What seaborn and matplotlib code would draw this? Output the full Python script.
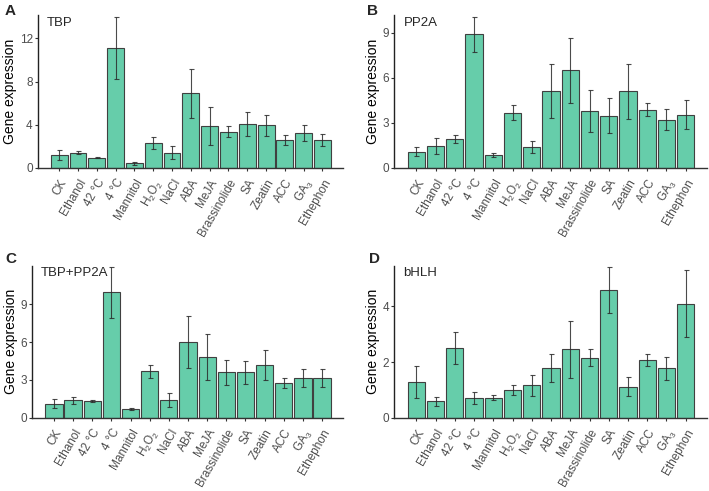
import numpy as np
import matplotlib
matplotlib.use('Agg')
import matplotlib.pyplot as plt
import seaborn as sns

# ----- # Datos # ----- #
tratamientos = ['CK', 'Ethanol', '42 °C', '4 °C', 'Mannitol', 'H$_2$O$_2$',
                'NaCl', 'ABA', 'MeJA', 'Brassinolide', 'SA', 'Zeatin',
                'ACC', 'GA$_3$', 'Ethephon']

tbp_media = [1.2, 1.42, 0.95, 11.1, 0.43, 2.34, 1.42, 6.92, 3.88, 3.35,
             4.06, 3.94, 2.55, 3.23, 2.62]
tbp_sd = [0.45, 0.15, 0.05, 2.9, 0.15, 0.55, 0.63, 2.27, 1.74, 0.52,
          1.15, 0.97, 0.46, 0.77, 0.55]

pp2a_media = [1.08, 1.48, 1.94, 8.9, 0.88, 3.66, 1.39, 5.12, 6.49, 3.77,
              3.49, 5.1, 3.89, 3.2, 3.53]
pp2a_sd = [0.31, 0.54, 0.27, 1.17, 0.13, 0.5, 0.39, 1.82, 2.18, 1.4,
           1.17, 1.85, 0.42, 0.7, 0.97]

tbp_pp2a_media = [1.12, 1.38, 1.35, 9.93, 0.7, 3.7, 1.4, 6.02, 4.8, 3.6,
                  3.6, 4.2, 2.74, 3.15, 3.15]
tbp_pp2a_sd = [0.35, 0.3, 0.1, 2.0, 0.1, 0.52, 0.53, 2.04, 1.82, 1.0,
               0.9, 1.2, 0.38, 0.68, 0.7]

bhlh_media = [1.28, 0.6, 2.5, 0.71, 0.72, 0.99, 1.16, 1.77, 2.45, 2.16,
              4.57, 1.12, 2.07, 1.77, 4.09]
bhlh_sd = [0.56, 0.16, 0.58, 0.22, 0.09, 0.18, 0.36, 0.5, 1.03, 0.3,
           0.83, 0.35, 0.21, 0.41, 1.2]

# letra, gen, medias, sd, ticks del eje y, posición del eje, posición letra
paneles = [
    ('A', 'TBP', tbp_media, tbp_sd, [0, 4, 8, 12],
     [0.053, 0.658, 0.431, 0.311], (0.006, 0.992)),
    ('B', 'PP2A', pp2a_media, pp2a_sd, [0, 3, 6, 9],
     [0.556, 0.658, 0.441, 0.311], (0.518, 0.992)),
    ('C', 'TBP+PP2A', tbp_pp2a_media, tbp_pp2a_sd, [0, 3, 6, 9],
     [0.045, 0.149, 0.439, 0.310], (0.007, 0.486)),
    ('D', 'bHLH', bhlh_media, bhlh_sd, [0, 2, 4],
     [0.556, 0.149, 0.441, 0.310], (0.520, 0.486)),
]

color_barra = '#66CDAA'
gris = '#4D4D4D'

sns.set_style('white')
plt.rcParams['font.family'] = ['Liberation Sans', 'DejaVu Sans']
plt.rcParams['mathtext.fontset'] = 'custom'
plt.rcParams['mathtext.rm'] = 'Liberation Sans'
plt.rcParams['mathtext.it'] = 'Liberation Sans:italic'

fig = plt.figure(figsize=(7.09, 4.91), dpi=100)

for letra, gen, media, sd, yticks, pos, pos_letra in paneles:
    ax = fig.add_axes(pos)
    x = np.arange(len(tratamientos))

    # Barras
    sns.barplot(x=tratamientos, y=media, color=color_barra, saturation=1,
                edgecolor='#404040', linewidth=0.8, width=0.9,
                errorbar=None, ax=ax)

    # Barras de error (desviación estándar)
    ax.errorbar(x, media, yerr=sd, fmt='none', ecolor='#2b2b2b',
                elinewidth=0.8, capsize=1.8, capthick=0.8, alpha=0.85)

    tope = max(np.array(media) + np.array(sd))
    ax.set_ylim(0, tope * 1.01)
    ax.set_xlim(-1.15, len(tratamientos) - 1 + 1.1)
    ax.set_yticks(yticks)
    ax.set_ylabel('Gene expression', fontsize=10, color='black', labelpad=2)
    ax.set_xlabel('')

    ax.set_xticks(x)
    ax.set_xticklabels(tratamientos, rotation=60, ha='right',
                       rotation_mode='anchor', fontsize=8.5, color=gris)
    ax.tick_params(axis='y', labelsize=8.5, labelcolor=gris, length=2.5,
                   width=0.8, color='#333333', left=True, pad=1)
    ax.tick_params(axis='x', length=2.5, width=0.8, color='#333333',
                   bottom=True, pad=4)

    sns.despine(ax=ax)
    ax.spines['left'].set_color('#222222')
    ax.spines['bottom'].set_color('#333333')
    ax.spines['left'].set_linewidth(1.0)
    ax.spines['bottom'].set_linewidth(1.0)

    # Nombre del gen dentro del panel
    ax.text(0.03, 0.99, gen, transform=ax.transAxes, fontsize=9.5,
            va='top', ha='left')

    # Letra del panel
    fig.text(pos_letra[0], pos_letra[1], letra, fontsize=11,
             fontweight='bold', va='top', ha='left')

fig.savefig('out.png', dpi=100)
